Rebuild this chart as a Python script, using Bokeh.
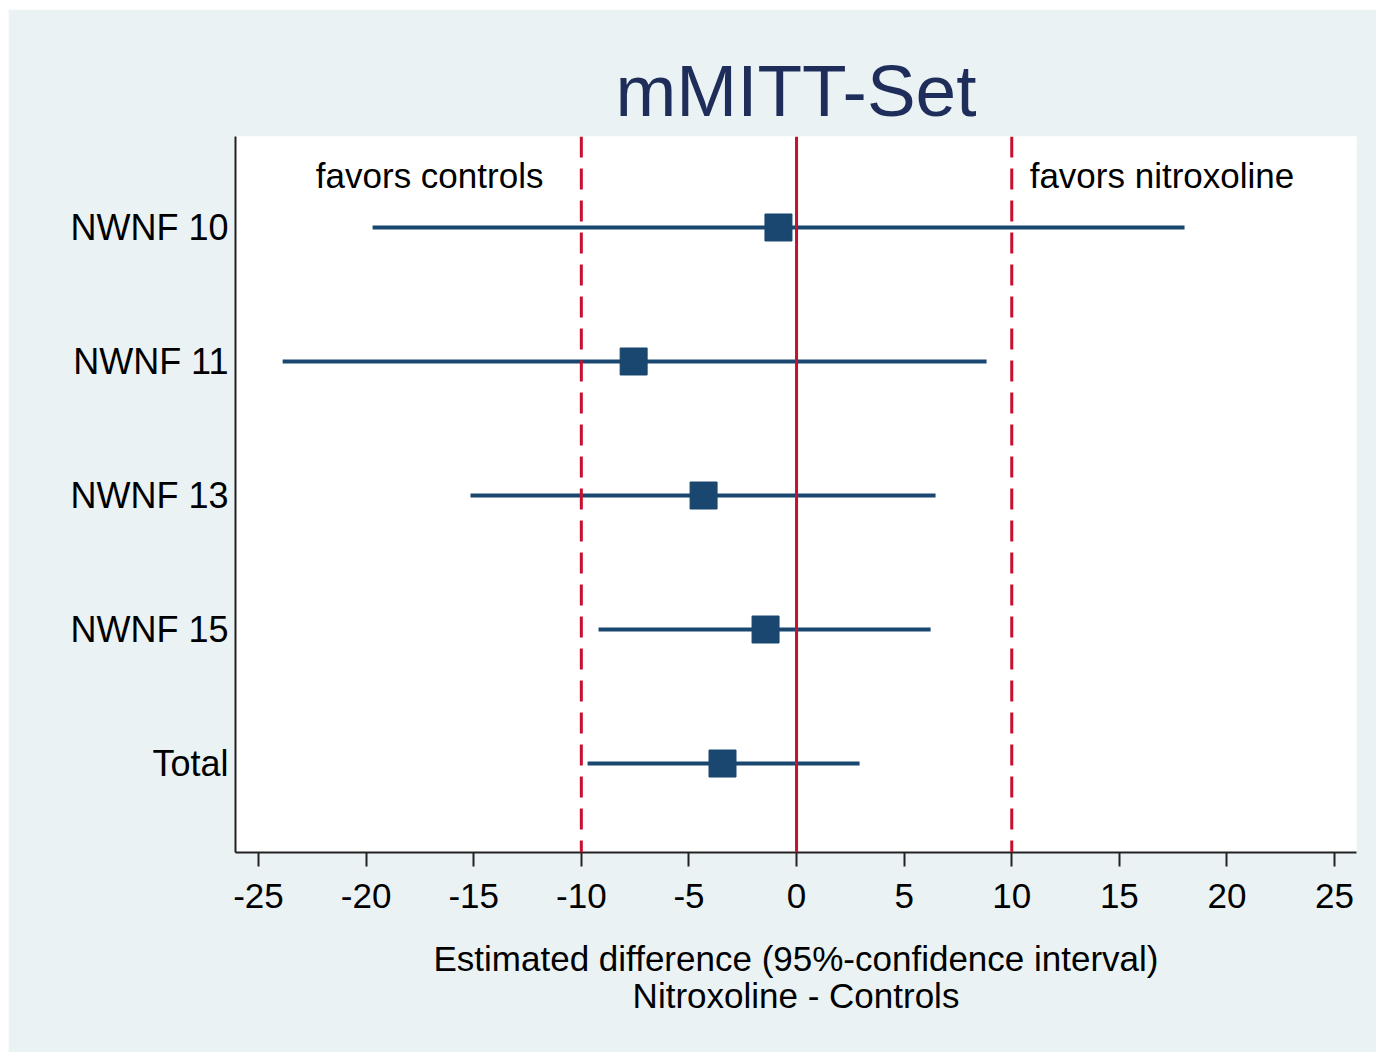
from bokeh.plotting import figure
from bokeh.models import Range1d, FixedTicker, Span, Label, ColumnDataSource
from bokeh.embed import file_html
from bokeh.resources import INLINE

# ---- data ----
categories = ["NWNF 10", "NWNF 11", "NWNF 13", "NWNF 15", "Total"]
estimates = [-0.84, -7.57, -4.32, -1.44, -3.44]
ci_low = [-19.70, -23.88, -15.15, -9.20, -9.71]
ci_high = [18.03, 8.83, 6.46, 6.23, 2.93]
x_ticks = [-25, -20, -15, -10, -5, 0, 5, 10, 15, 20, 25]
ref_lines = [-10, 0, 10]

FONT = "Liberation Sans"
NAVY = "#1A476F"
RED = "#C8102E"
BG = "#EAF2F3"

ypos = list(range(len(categories), 0, -1))  # 5..1
src = ColumnDataSource(dict(y=ypos, est=estimates, lo=ci_low, hi=ci_high, cat=categories))

p = figure(width=1368, height=1043, output_backend="svg", toolbar_location=None,
           x_range=Range1d(-26.07, 26.02), y_range=Range1d(0.336, 5.679),
           min_border_left=227, min_border_right=20, min_border_top=127, min_border_bottom=200)
p.margin = (9, 0, 1, 8)
p.background_fill_color = "white"
p.border_fill_color = BG
p.outline_line_color = None
p.xgrid.visible = False
p.ygrid.visible = False

p.title.text = "mMITT-Set"
p.title.align = "center"
p.title.text_font = FONT
p.title.text_font_size = "73px"
p.title.text_font_style = "normal"
p.title.text_color = "#1E2D5A"
p.title.standoff = 12

# CI lines and points
p.segment(x0="lo", x1="hi", y0="y", y1="y", source=src, line_color=NAVY, line_width=4)
p.scatter(x="est", y="y", source=src, marker="square", size=27,
          fill_color=NAVY, line_color=NAVY)

# reference lines
for v in ref_lines:
    if v == 0:
        s = Span(location=v, dimension="height", line_color=RED, line_width=3)
    else:
        s = Span(location=v, dimension="height", line_color=RED, line_width=3, line_dash="21 11")
    p.add_layout(s)

for txt, xv in [("favors controls", -17.05), ("favors nitroxoline", 16.98)]:
    p.add_layout(Label(x=xv, y=5.39, text=txt, text_align="center", text_baseline="middle",
                       text_font=FONT, text_font_size="35px", text_color="black"))

# x axis
xa = p.xaxis[0]
xa.ticker = FixedTicker(ticks=x_ticks)
xa.major_label_overrides = {t: str(t) for t in x_ticks}
xa.major_tick_out = 14
xa.major_tick_in = 0
xa.minor_tick_line_color = None
xa.major_tick_line_width = 2
xa.axis_line_width = 2
xa.axis_line_color = "#222222"
xa.major_tick_line_color = "#222222"
xa.major_label_text_font = FONT
xa.major_label_text_font_size = "35px"
xa.major_label_text_color = "black"
xa.major_label_standoff = 17
xa.axis_label = "Estimated difference (95%-confidence interval)\nNitroxoline - Controls"
xa.axis_label_text_font = FONT
xa.axis_label_text_font_size = "35px"
xa.axis_label_text_font_style = "normal"
xa.axis_label_text_color = "black"
xa.axis_label_standoff = 28
xa.axis_label_text_line_height = 0.95

# y axis
ya = p.yaxis[0]
ya.ticker = FixedTicker(ticks=ypos)
ya.major_label_overrides = {y: c for y, c in zip(ypos, categories)}
ya.major_tick_line_color = None
ya.minor_tick_line_color = None
ya.axis_line_width = 2
ya.axis_line_color = "#222222"
ya.major_label_text_font = FONT
ya.major_label_text_font_size = "36px"
ya.major_label_text_color = "black"
ya.major_label_standoff = 1

open("out.html", "w").write(file_html(p, INLINE))
